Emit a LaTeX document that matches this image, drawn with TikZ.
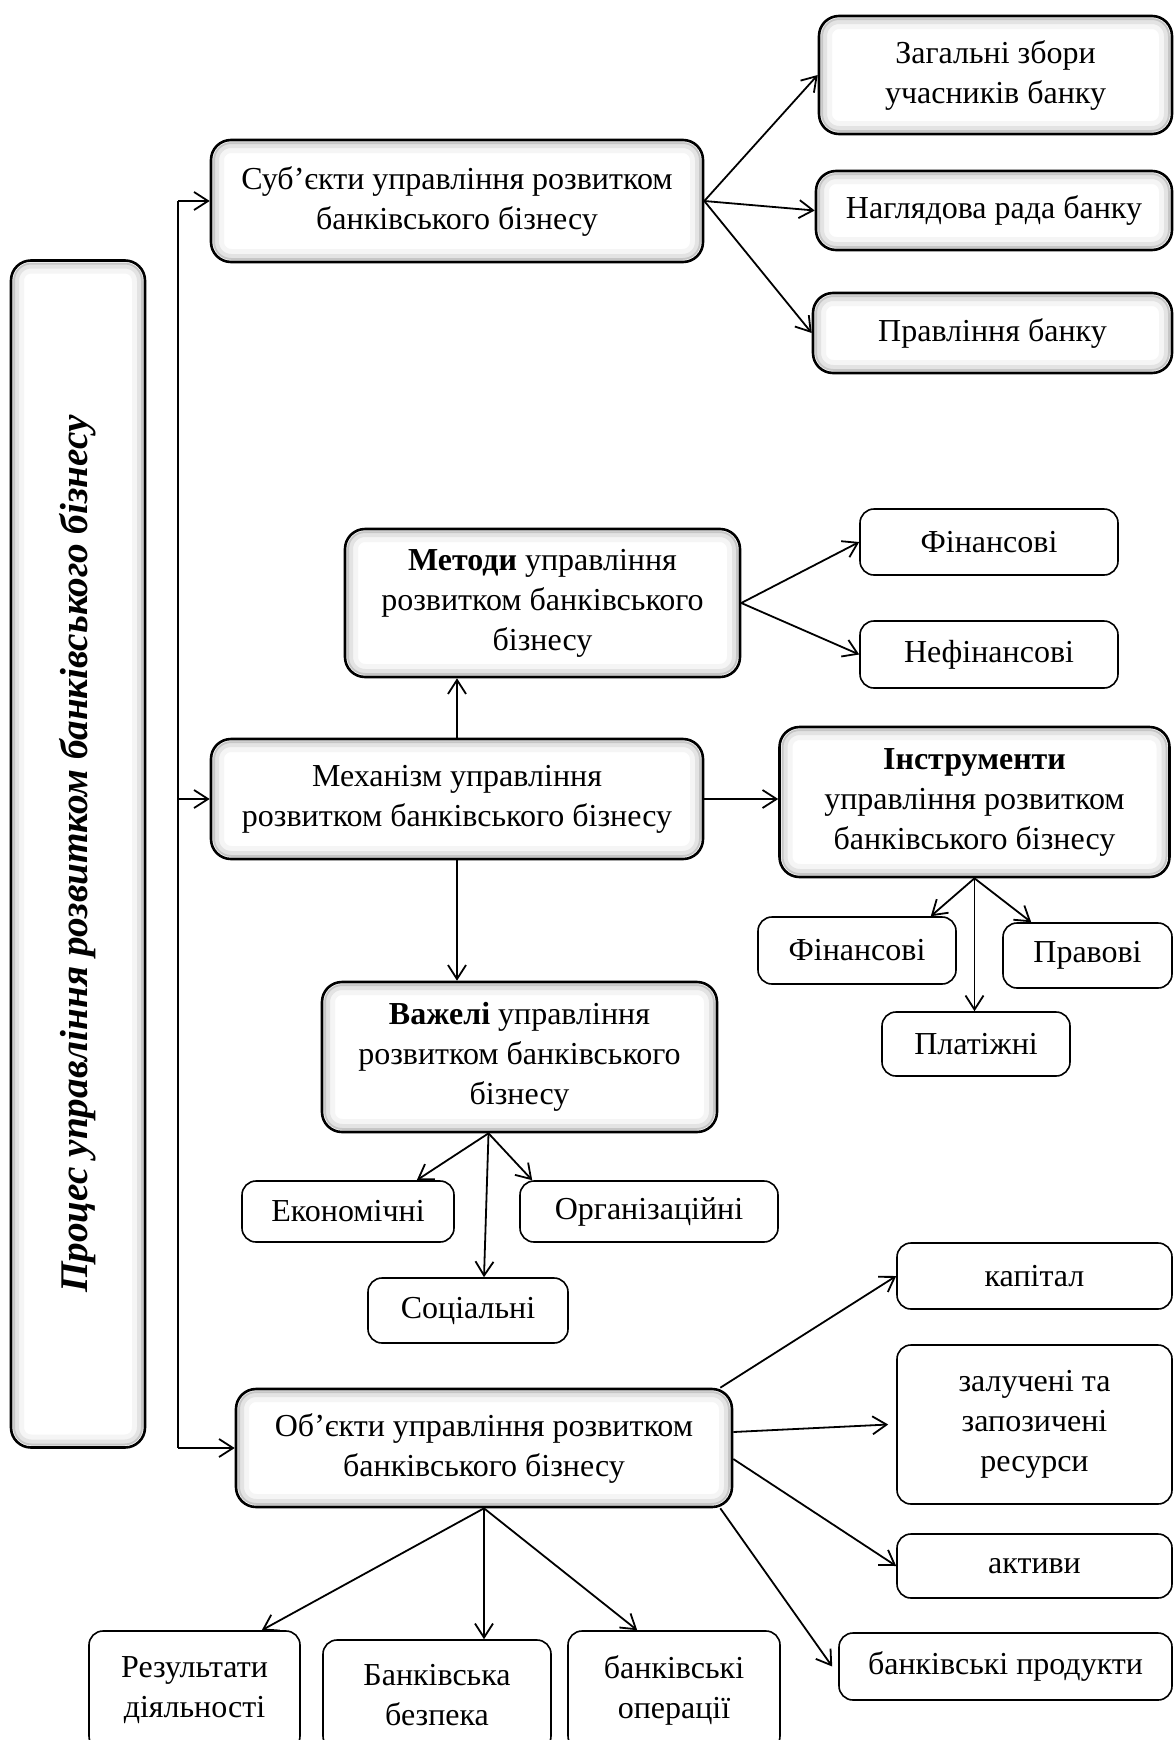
\documentclass[tikz,border=0pt]{standalone}
\usepackage{fontspec}
\setmainfont{Liberation Serif}
\usetikzlibrary{arrows.meta}

\begin{document}
\begin{tikzpicture}[
        x=0.5pt, y=-0.5pt,
        >={Straight Barb[length=7pt,width=9pt]},
        line width=0.9pt,
        every node/.style={align=center, inner sep=0pt},
        font=\fontsize{16}{20}\selectfont,
        bevel/.style={draw, line width=1.3pt, rounded corners=10pt, fill=white,
            path picture={
                \draw[gray!8, line width=13pt, rounded corners=10pt]
                    (path picture bounding box.south west) rectangle (path picture bounding box.north east);
                \draw[gray!22, line width=8pt, rounded corners=10pt]
                    (path picture bounding box.south west) rectangle (path picture bounding box.north east);
                \draw[gray!45, line width=4pt, rounded corners=10pt]
                    (path picture bounding box.south west) rectangle (path picture bounding box.north east);
                \draw[white, line width=2pt, rounded corners=10pt]
                    (path picture bounding box.south west) rectangle (path picture bounding box.north east);
            }},
        plain/.style={draw, line width=0.8pt, rounded corners=7pt}
        ]

        \useasboundingbox (0,0) rectangle (1174,1740);

        % nodes
        \node[bevel, rotate=90, minimum width=593.5pt, minimum height=67pt,
              font=\fontsize{19.6}{22}\selectfont\bfseries\itshape] (proc) at (78,854)
              {Процес управління розвитком банківського бізнесу};

        \node[bevel, minimum width=246pt, minimum height=61pt] (sub) at (457,201)
              {Суб’єкти управління розвитком\\банківського бізнесу};
        \node[bevel, minimum width=176.5pt, minimum height=59pt] (zag) at (995.5,75)
              {Загальні збори\\учасників банку};
        \node[bevel, minimum width=178pt, minimum height=39.5pt] (nag) at (994,210.5)
              {Наглядова рада банку};
        \node[bevel, minimum width=179.5pt, minimum height=40pt] (prav) at (992.5,333)
              {Правління банку};

        \node[bevel, minimum width=197.5pt, minimum height=74pt] (met) at (542.5,603)
              {\textbf{Методи} управління\\розвитком банківського\\бізнесу};
        \node[plain, minimum width=129pt, minimum height=33pt] (fin1) at (989,542) {Фінансові};
        \node[plain, minimum width=129pt, minimum height=33.5pt] (nefin) at (989,654.5) {Нефінансові};

        \node[bevel, minimum width=246pt, minimum height=60pt] (mech) at (457,799)
              {Механізм управління\\розвитком банківського бізнесу};
        \node[bevel, minimum width=195pt, minimum height=75pt] (instr) at (974.5,802)
              {\textbf{Інструменти}\\управління розвитком\\банківського бізнесу};
        \node[plain, minimum width=99pt, minimum height=33.5pt] (fin2) at (857,950.5) {Фінансові};
        \node[plain, minimum width=84.5pt, minimum height=32.5pt] (pravo) at (1087.5,955.5) {Правові};
        \node[plain, minimum width=94pt, minimum height=32pt] (plat) at (976,1044) {Платіжні};

        \node[bevel, minimum width=197.5pt, minimum height=75pt] (vaz) at (519.5,1057)
              {\textbf{Важелі} управління\\розвитком банківського\\бізнесу};
        \node[plain, minimum width=106pt, minimum height=30.5pt] (ek) at (348,1211.5) {Економічні};
        \node[plain, minimum width=129pt, minimum height=30.5pt] (org) at (649,1211.5) {Організаційні};
        \node[plain, minimum width=100pt, minimum height=32.5pt] (soc) at (468,1310.5) {Соціальні};

        \node[bevel, minimum width=248pt, minimum height=59pt] (obj) at (484,1448)
              {Об’єкти управління розвитком\\банківського бізнесу};
        \node[plain, minimum width=137.5pt, minimum height=33pt] (kap) at (1034.5,1276) {капітал};
        \node[plain, minimum width=137.5pt, minimum height=79.5pt] (zal) at (1034.5,1424.5)
              {залучені та\\запозичені\\ресурси};
        \node[plain, minimum width=137.5pt, minimum height=32pt] (akt) at (1034.5,1566) {активи};
        \node[plain, minimum width=166.5pt, minimum height=33.5pt] (prod) at (1005.5,1666.5) {банківські продукти};
        \node[plain, minimum width=105.5pt, minimum height=59.5pt] (res) at (194.5,1690.5)
              {Результати\\діяльності};
        \node[plain, minimum width=114pt, minimum height=55pt] (bez) at (437,1695)
              {Банківська\\безпека};
        \node[plain, minimum width=106pt, minimum height=59.5pt] (oper) at (674,1690.5)
              {банківські\\операції};

        % edges
        \coordinate (t1) at (178,201);
        \coordinate (t2) at (178,1448);
        \draw (t1) -- (t2);
        \draw[->] (t1) -- (sub);
        \draw[->] (mech.west -| t1) -- (mech.west);
        \draw[->] (t2) -- (obj);

        \draw[->] (sub.east) -- (zag.west);
        \draw[->] (sub.east) -- (nag.west);
        \draw[->] (sub.east) -- (prav.west);

        \draw[->] (met.east) -- (fin1.west);
        \draw[->] (met.east) -- (nefin.west);

        \draw[->] (mech.north) -- (mech.north |- met.south);
        \draw[->] (mech.east) -- (mech.east -| instr.west);
        \draw[->] (mech.south) -- (mech.south |- vaz.north);

        \draw[->] (instr.south) -- ([xshift=-13pt]fin2.north east);
        \draw[->] (instr.south) -- (instr.south |- plat.north);
        \draw[->] (instr.south) -- ([xshift=14.5pt]pravo.north west);

        \draw[->] ([xshift=-15.5pt]vaz.south) -- ([xshift=-19pt]ek.north east);
        \draw[->] ([xshift=-15.5pt]vaz.south) -- ([xshift=8pt]soc.north);
        \draw[->] ([xshift=-15.5pt]vaz.south) -- ([xshift=6.5pt]org.north west);

        \draw[->] ([xshift=-6.5pt]obj.north east) -- (kap.west);
        \draw[->] ([yshift=8pt]obj.east) -- ([xshift=-4pt]zal.west);
        \draw[->] ([yshift=-5.5pt]obj.east) -- (akt.west);
        \draw[->] ([xshift=-6.5pt]obj.south east) -- ([xshift=-3pt]prod.west);

        \draw[->] (obj.south) -- ([xshift=-19.5pt]res.north east);
        \draw[->] (obj.south) -- (obj.south |- bez.north);
        \draw[->] (obj.south) -- ([xshift=35pt]oper.north west);

    \end{tikzpicture}
\end{document}
